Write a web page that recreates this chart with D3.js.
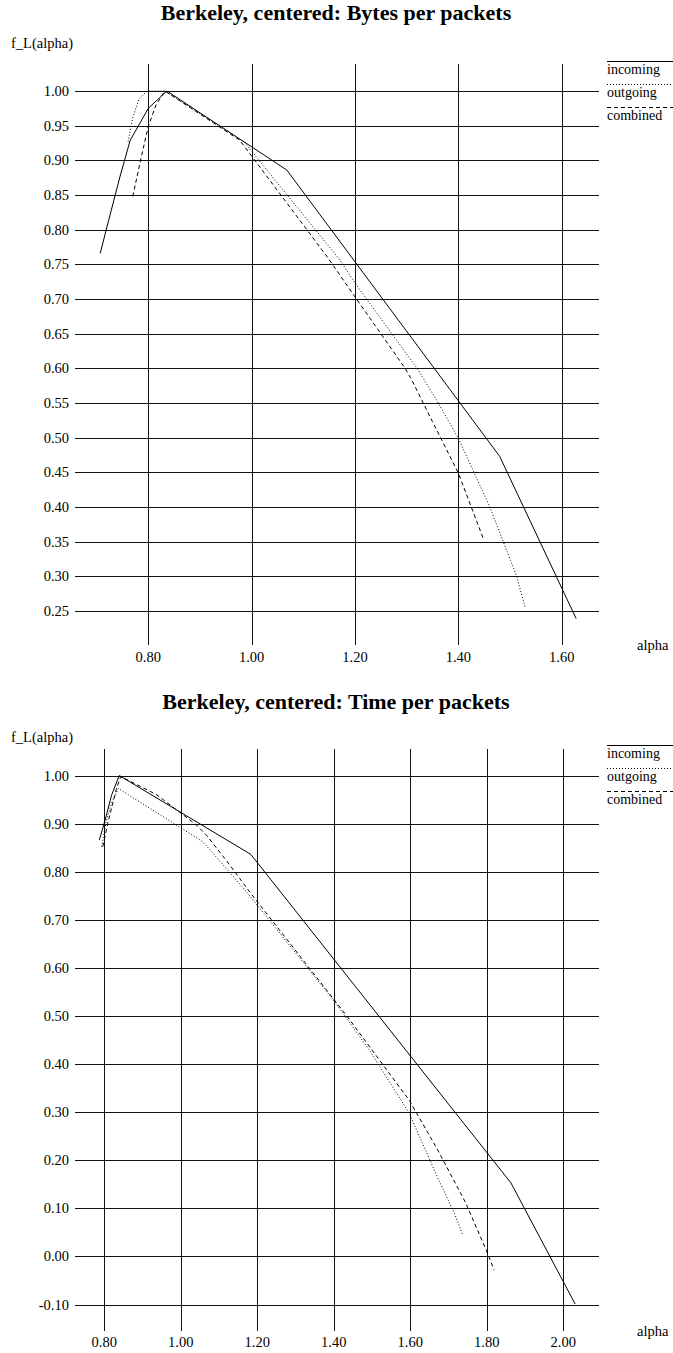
<!DOCTYPE html>
<html><head><meta charset="utf-8">
<script src="https://cdn.jsdelivr.net/npm/d3@7"></script>
<style>
html,body{margin:0;padding:0;background:#fff;}
text{font-family:"Liberation Serif","Times New Roman",serif;fill:#000;}
</style></head>
<body><svg id="c" width="673" height="1353"></svg>
<script>
// ---- Chart 1: Bytes per packets ----
const title1 = "Berkeley, centered: Bytes per packets";
const xTicks1 = [0.8, 1.0, 1.2, 1.4, 1.6];
const yTicks1 = [1.00, 0.95, 0.90, 0.85, 0.80, 0.75, 0.70, 0.65, 0.60, 0.55, 0.50, 0.45, 0.40, 0.35, 0.30, 0.25];
const incomingA1 = [0.707, 0.720, 0.745, 0.765, 0.800, 0.836, 1.068, 1.480, 1.628];
const incomingF1 = [0.766, 0.804, 0.876, 0.929, 0.975, 1.000, 0.886, 0.473, 0.239];
const outgoingA1 = [0.761, 0.770, 0.782, 0.797, 0.832, 0.985, 1.171, 1.200, 1.322, 1.358, 1.400, 1.461, 1.487, 1.513, 1.529];
const outgoingF1 = [0.927, 0.962, 0.988, 1.000, 1.000, 0.927, 0.756, 0.723, 0.598, 0.554, 0.499, 0.400, 0.350, 0.300, 0.256];
const combinedA1 = [0.770, 0.785, 0.800, 0.815, 0.832, 0.977, 1.148, 1.200, 1.297, 1.310, 1.350, 1.400, 1.448];
const combinedF1 = [0.848, 0.900, 0.949, 0.980, 1.000, 0.929, 0.759, 0.703, 0.600, 0.583, 0.523, 0.449, 0.355];

// ---- Chart 2: Time per packets ----
const title2 = "Berkeley, centered: Time per packets";
const xTicks2 = [0.8, 1.0, 1.2, 1.4, 1.6, 1.8, 2.0];
const yTicks2 = [1.0, 0.9, 0.8, 0.7, 0.6, 0.5, 0.4, 0.3, 0.2, 0.1, 0.0, -0.1];
const incomingA2 = [0.787, 0.802, 0.819, 0.839, 1.183, 1.863, 2.031];
const incomingF2 = [0.866, 0.907, 0.959, 1.000, 0.836, 0.153, -0.099];
const outgoingA2 = [0.793, 0.805, 0.820, 0.837, 1.058, 1.172, 1.399, 1.493, 1.597, 1.672, 1.715, 1.737];
const outgoingF2 = [0.852, 0.905, 0.945, 0.973, 0.862, 0.758, 0.533, 0.429, 0.298, 0.163, 0.090, 0.045];
const combinedA2 = [0.796, 0.810, 0.832, 0.843, 0.937, 1.041, 1.067, 1.128, 1.180, 1.434, 1.597, 1.672, 1.745, 1.798, 1.819];
const combinedF2 = [0.852, 0.904, 0.973, 0.998, 0.960, 0.897, 0.876, 0.814, 0.758, 0.500, 0.325, 0.221, 0.111, 0.014, -0.028];

const seriesNames = ["incoming", "outgoing", "combined"];
const yLabel = "f_L(alpha)";
const xLabel = "alpha";

const svg = d3.select("#c");
const styles = { incoming: null, outgoing: "1,2", combined: "4,3" };

function draw(cfg) {
  const g = svg.append("g");
  const x = d3.scaleLinear().domain(cfg.xDomain).range(cfg.xRange);
  const y = d3.scaleLinear().domain(cfg.yDomain).range(cfg.yRange);
  const crisp = v => Math.round(v) + 0.5;

  g.append("text").attr("x", 336).attr("y", cfg.titleY).attr("text-anchor", "middle")
    .style("font-weight", "bold").style("font-size", "22px").text(cfg.title);
  g.append("text").attr("x", 11).attr("y", cfg.yLabelY).style("font-size", "14.5px").text(yLabel);

  // horizontal grid
  g.selectAll("line.h").data(cfg.yTicks).enter().append("line")
    .attr("x1", cfg.gridX0).attr("x2", cfg.gridX1)
    .attr("y1", d => crisp(y(d))).attr("y2", d => crisp(y(d)))
    .attr("stroke", "#111").attr("stroke-width", 1);
  g.selectAll("text.yt").data(cfg.yTicks).enter().append("text")
    .attr("x", 69).attr("y", d => y(d)).attr("dy", "0.35em").attr("text-anchor", "end")
    .style("font-size", "14.5px").text(d => d.toFixed(2));
  // vertical grid
  g.selectAll("line.v").data(cfg.xTicks).enter().append("line")
    .attr("x1", d => crisp(x(d))).attr("x2", d => crisp(x(d)))
    .attr("y1", cfg.gridY0).attr("y2", cfg.gridY1)
    .attr("stroke", "#111").attr("stroke-width", 1);
  g.selectAll("text.xt").data(cfg.xTicks).enter().append("text")
    .attr("x", d => x(d)).attr("y", cfg.xTickY).attr("text-anchor", "middle")
    .style("font-size", "14.5px").text(d => d.toFixed(2));
  g.append("text").attr("x", 637).attr("y", cfg.xLabelY).style("font-size", "14.5px").text(xLabel);

  const line = d3.line().x(d => x(d[0])).y(d => y(d[1]));
  cfg.series.forEach((s, i) => {
    const pts = s.a.map((a, k) => [a, s.f[k]]);
    g.append("path").datum(pts).attr("d", line).attr("fill", "none")
      .attr("stroke", "#000").attr("stroke-width", 1)
      .attr("stroke-dasharray", styles[s.name]);
  });
  // legend
  seriesNames.forEach((n, i) => {
    const ly = cfg.legendY + i * 23;
    g.append("line").attr("x1", 607).attr("x2", 673).attr("y1", ly + 0.5).attr("y2", ly + 0.5)
      .attr("stroke", "#000").attr("stroke-width", 1).attr("stroke-dasharray", styles[n]);
    g.append("text").attr("x", 607).attr("y", ly + 13).style("font-size", "14px").text(n);
  });
}

draw({
  title: title1, titleY: 20, yLabelY: 48,
  xDomain: [0.8, 1.6], xRange: [148.3, 561.7],
  yDomain: [0.25, 1.0], yRange: [611, 91],
  xTicks: xTicks1, yTicks: yTicks1,
  gridX0: 75, gridX1: 599, gridY0: 64, gridY1: 645,
  xTickY: 662, xLabelY: 650, legendY: 61,
  series: [
    { name: "incoming", a: incomingA1, f: incomingF1 },
    { name: "outgoing", a: outgoingA1, f: outgoingF1 },
    { name: "combined", a: combinedA1, f: combinedF1 }
  ]
});
draw({
  title: title2, titleY: 709, yLabelY: 742,
  xDomain: [0.8, 2.0], xRange: [104.3, 563.3],
  yDomain: [-0.1, 1.0], yRange: [1304.5, 775.5],
  xTicks: xTicks2, yTicks: yTicks2,
  gridX0: 75, gridX1: 599, gridY0: 749, gridY1: 1331,
  xTickY: 1347, xLabelY: 1336, legendY: 745,
  series: [
    { name: "incoming", a: incomingA2, f: incomingF2 },
    { name: "outgoing", a: outgoingA2, f: outgoingF2 },
    { name: "combined", a: combinedA2, f: combinedF2 }
  ]
});
</script></body></html>
